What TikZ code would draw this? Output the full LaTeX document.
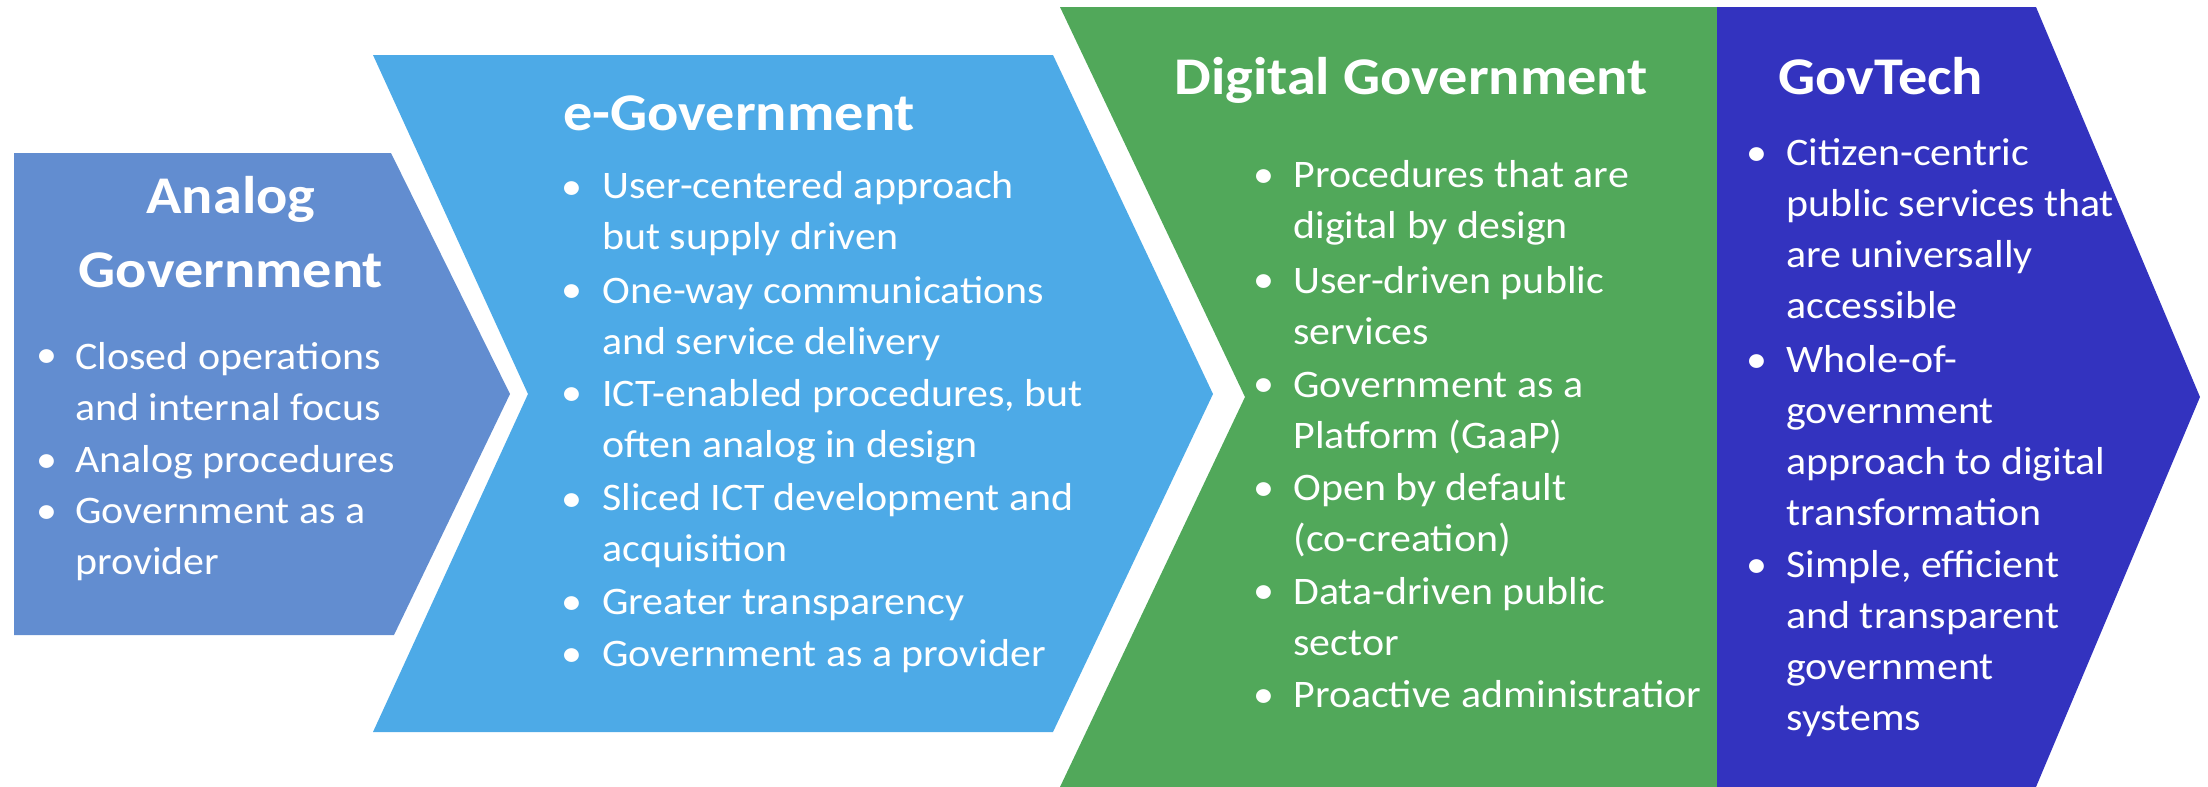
\documentclass[tikz,border=0pt]{standalone}
\usepackage{fontspec}
\setmainfont{Carlito}
\newfontfamily\bodyfont[FakeStretch=1.075]{Carlito}
\newfontfamily\titlefont[FakeStretch=1.1]{Carlito}
\definecolor{analogc}{HTML}{628DD0}
\definecolor{egovc}{HTML}{4DAAE7}
\definecolor{digic}{HTML}{51A85A}
\definecolor{gtc}{HTML}{3333BF}
\begin{document}
\begin{tikzpicture}[x=0.5pt,y=-0.5pt,
  title/.style={font=\titlefont\bfseries\fontsize{26.5}{37}\selectfont, text=white, inner sep=0pt, anchor=base west},
  body/.style={font=\bodyfont\fontsize{19.5}{25.5}\selectfont, text=white, inner sep=0pt, anchor=base west, align=left},
  bul/.style={font=\bodyfont\fontsize{19.5}{25.5}\selectfont, text=white, inner sep=0pt, anchor=base}]
\useasboundingbox (0,0) rectangle (2208,787);
% shapes
\fill[analogc] (14,153) -- (391,153) -- (510,394) -- (394,635) -- (14,635) -- cycle;
\fill[egovc] (373,55) -- (1053,55) -- (1213,394) -- (1053,732) -- (373,732) -- (528,394) -- cycle;
\fill[digic] (1060,7) -- (1717,7) -- (1717,787) -- (1060,787) -- (1245,397) -- cycle;
\fill[gtc] (1717,7) -- (2036,7) -- (2200,397) -- (2036,787) -- (1717,787) -- cycle;
% Analog (multi-line nodes are placed by the baseline of their last line)
\node[title, anchor=base, align=center] (at) at (231,287) {Analog\\Government};
\node[bul] (ab1) at (46.5,367) {•};
\node[body] (a1) at (75,420) {Closed operations\\and internal focus};
\node[bul] (ab2) at (46.5,472) {•};
\node[body] (a2) at (75,472) {Analog procedures};
\node[bul] (ab3) at (46.5,523) {•};
\node[body] (a3) at (75,574) {Government as a\\provider};
% e-Government
\node[title] (et) at (563,130) {e-Government};
\node[bul] (eb1) at (572,199) {•};
\node[body] (e1) at (602,249) {User-centered approach\\but supply driven};
\node[bul] (eb2) at (572,302) {•};
\node[body] (e2) at (602,354) {One-way communications\\and service delivery};
\node[bul] (eb3) at (572,405) {•};
\node[body] (e3) at (602,457) {ICT-enabled procedures, but\\often analog in design};
\node[bul] (eb4) at (572,511) {•};
\node[body] (e4) at (602,561) {Sliced ICT development and\\acquisition};
\node[bul] (eb5) at (572,614) {•};
\node[body] (e5) at (602,614) {Greater transparency};
\node[bul] (eb6) at (572,666) {•};
\node[body] (e6) at (602,666) {Government as a provider};
% Digital Government
\node[title] (dt) at (1174,94) {Digital Government};
\node[bul] (db1) at (1264,187) {•};
\node[body] (d1) at (1293,238) {Procedures that are\\digital by design};
\node[bul] (db2) at (1264,292) {•};
\node[body] (d2) at (1293,344) {User-driven public\\services};
\node[bul] (db3) at (1264,396) {•};
\node[body] (d3) at (1293,448) {Government as a\\Platform (GaaP)};
\node[bul] (db4) at (1264,500) {•};
\node[body] (d4) at (1293,551) {Open by default\\(co-creation)};
\node[bul] (db5) at (1264,603) {•};
\node[body] (d5) at (1293,655) {Data-driven public\\sector};
\node[bul] (db6) at (1264,707) {•};
\node[body] (d6) at (1293,707) {Proactive administratior};
% GovTech
\node[title] (gt) at (1778,94) {GovTech};
\node[bul] (gb1) at (1757,165) {•};
\node[body] (g1) at (1786,318) {Citizen-centric\\public services that\\are universally\\accessible};
\node[bul] (gb2) at (1757,372) {•};
\node[body] (g2) at (1786,525) {Whole-of-\\government\\approach to digital\\transformation};
\node[bul] (gb3) at (1757,577) {•};
\node[body] (g3) at (1786,730) {Simple, efficient\\and transparent\\government\\systems};
\end{tikzpicture}
\end{document}
